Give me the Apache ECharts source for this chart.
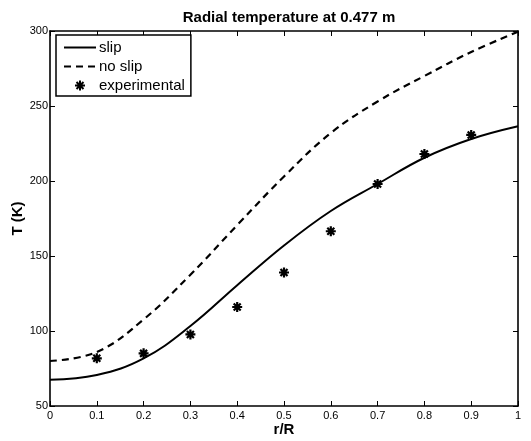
<!DOCTYPE html>
<html style="height: 100%;">
<head>
    <meta charset="UTF-8">
    <title>Radial temperature</title>
    <script src="https://cdn.jsdelivr.net/npm/echarts@6/dist/echarts.min.js"></script>
</head>
<body style="height: 100%;margin: 0;background:#fff;">
	<div id="container" style="width:531px;height:441px;"></div>
    <script type="text/javascript">
      	// r/R positions and temperatures
      	var rPos = [0, 0.1, 0.2, 0.3, 0.4, 0.5, 0.6, 0.7, 0.8, 0.9, 1.0];
      	var slipT = [67.5, 70.6, 81.7, 103.3, 130.5, 157, 180, 198, 215.5, 228, 236.5];
      	var noSlipT = [80, 86, 107.7, 137.5, 170.6, 203, 232, 253, 270, 286, 299.5];
      	var expR = [0.1, 0.2, 0.3, 0.4, 0.5, 0.6, 0.7, 0.8, 0.9];
      	var expT = [81.8, 85.1, 97.7, 116, 139, 166.5, 198, 218, 230.7];
      	var xTicks = [0, 0.1, 0.2, 0.3, 0.4, 0.5, 0.6, 0.7, 0.8, 0.9, 1];
      	var yTicks = [50, 100, 150, 200, 250, 300];

      	function pairs(xs, ys) {
      		var out = [];
      		for (var i = 0; i < xs.length; i++) out.push([xs[i], ys[i]]);
      		return out;
      	}

      	var font = 'Liberation Sans, Arial, sans-serif';
      	var star = 'path://M0,5L10,5M5,0L5,10M1.5,1.5L8.5,8.5M8.5,1.5L1.5,8.5';

      	var dom = document.getElementById("container");
      	var myChart = echarts.init(dom, null, {renderer: 'canvas'});

      	var baseX = {
      		type: 'value', min: 0, max: 1, interval: 0.1,
      		splitLine: {show: false},
      		axisLine: {show: true, onZero: false, lineStyle: {color: '#000', width: 1.6}},
      		axisTick: {show: true, inside: true, length: 5, lineStyle: {color: '#000', width: 1}}
      	};
      	var baseY = {
      		type: 'value', min: 50, max: 300, interval: 50,
      		splitLine: {show: false},
      		axisLine: {show: true, onZero: false, lineStyle: {color: '#000', width: 1.6}},
      		axisTick: {show: true, inside: true, length: 5, lineStyle: {color: '#000', width: 1}}
      	};

      	var option = {
      		animation: false,
      		backgroundColor: '#fff',
      		title: {
      			text: 'Radial temperature at 0.477 m',
      			left: 284, top: 5, textAlign: 'center',
      			textStyle: {fontFamily: font, fontSize: 15, fontWeight: 'bold', color: '#000'}
      		},
      		grid: {left: 50, right: 13, top: 31, bottom: 35, containLabel: false, outerBoundsMode: 'none'},
      		legend: {
      			orient: 'vertical', left: 56, top: 35,
      			backgroundColor: '#fff', borderColor: '#000', borderWidth: 1.5,
      			padding: [5, 6, 3, 7], itemGap: 4, itemWidth: 32, itemHeight: 10,
      			borderRadius: 0,
      			textStyle: {fontFamily: font, fontSize: 15, color: '#000', padding: [0, 0, 0, -2]},
      			data: [
      				{name: 'slip', itemStyle: {opacity: 0}},
      				{name: 'no slip', itemStyle: {opacity: 0}},
      				'experimental'
      			]
      		},
      		xAxis: [
      			Object.assign({}, baseX, {
      				position: 'bottom',
      				name: 'r/R', nameLocation: 'middle', nameGap: 16, nameMoveOverlap: false,
      				nameTextStyle: {fontFamily: font, fontSize: 15, fontWeight: 'bold', color: '#000'},
      				axisLabel: {
      					fontFamily: font, fontSize: 11, color: '#000', margin: 4,
      					showMinLabel: true, showMaxLabel: true,
      					formatter: function (v) { return xTicks.indexOf(+v.toFixed(1)) >= 0 ? String(+v.toFixed(1)) : ''; }
      				}
      			}),
      			Object.assign({}, baseX, {position: 'top', axisLabel: {show: false}})
      		],
      		yAxis: [
      			Object.assign({}, baseY, {
      				position: 'left',
      				name: 'T (K)', nameLocation: 'middle', nameGap: 25, nameRotate: 90, nameMoveOverlap: false,
      				nameTextStyle: {fontFamily: font, fontSize: 15, fontWeight: 'bold', color: '#000'},
      				axisLabel: {
      					fontFamily: font, fontSize: 11, color: '#000', margin: 2,
      					showMinLabel: true, showMaxLabel: true,
      					formatter: function (v) { return yTicks.indexOf(v) >= 0 ? String(v) : ''; }
      				}
      			}),
      			Object.assign({}, baseY, {position: 'right', axisLabel: {show: false}})
      		],
      		series: [
      			{
      				name: 'slip', type: 'line', smooth: 0.4, symbol: 'none',
      				xAxisIndex: 0, yAxisIndex: 0,
      				lineStyle: {color: '#000', width: 2},
      				itemStyle: {color: '#000'},
      				data: pairs(rPos, slipT)
      			},
      			{
      				name: 'no slip', type: 'line', smooth: 0.4, symbol: 'none',
      				xAxisIndex: 0, yAxisIndex: 0,
      				lineStyle: {color: '#000', width: 2.2, type: [7, 5]},
      				itemStyle: {color: '#000'},
      				data: pairs(rPos, noSlipT)
      			},
      			{
      				name: 'experimental', type: 'scatter',
      				xAxisIndex: 0, yAxisIndex: 0,
      				symbol: star, symbolSize: 10,
      				itemStyle: {color: '#000', borderColor: '#000', borderWidth: 2.2, opacity: 1},
      				data: pairs(expR, expT)
      			}
      		]
      	};
      	myChart.setOption(option, true);
    </script>
</body>
</html>
